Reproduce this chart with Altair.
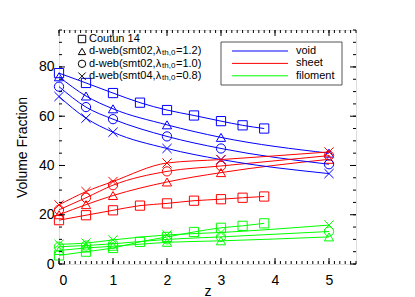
import altair as alt
import pandas as pd
import numpy as np

# ---- data ----
z_coutun = [0, 0.5, 1, 1.5, 2, 2.5, 3, 3.4, 3.8]
coutun_void = [77.5, 73.5, 69.4, 65.5, 62.5, 60.3, 58.0, 56.3, 55.0]
coutun_sheet = [17.8, 19.8, 21.8, 23.7, 24.6, 25.7, 26.3, 26.9, 27.4]
coutun_filament = [3.5, 5.0, 6.5, 9.0, 11.0, 13.0, 14.7, 15.5, 16.5]

z_dweb = [0, 0.5, 1, 2, 3, 5]
smt02_12_void = [76.0, 68.2, 63.0, 56.5, 51.4, 45.0]
smt02_12_sheet = [20.0, 24.1, 27.8, 33.3, 37.1, 42.5]
smt02_12_filament = [5.5, 6.5, 7.2, 8.8, 9.4, 11.0]

smt02_10_void = [72.0, 63.7, 58.8, 51.8, 46.9, 40.5]
smt02_10_sheet = [22.0, 26.9, 32.0, 37.6, 39.8, 44.0]
smt02_10_filament = [7.0, 7.5, 8.2, 10.0, 11.0, 13.2]

smt04_08_void = [68.0, 59.2, 53.5, 46.9, 42.4, 36.7]
smt04_08_sheet = [24.0, 29.4, 33.5, 41.0, 42.4, 45.5]
smt04_08_filament = [8.0, 8.5, 9.8, 11.8, 12.8, 15.8]

components = ["void", "sheet", "filoment"]
comp_colors = ["#0000ff", "#ff0000", "#00ff00"]
sources = ["coutun", "smt02_12", "smt02_10", "smt04_08"]
# legend labels split into (main text, subscript, rest)
legend_main = ["Coutun 14", "d-web(smt02,λ", "d-web(smt02,λ", "d-web(smt04,λ"]
legend_sub = ["", "th,0", "th,0", "th,0"]
legend_rest = ["", "=1.2)", "=1.0)", "=0.8)"]
x_path = "M-1,-1L1,1M-1,1L1,-1"
shapes = ["square", "triangle-up", "circle", x_path]

series = {
    ("coutun", "void"): (z_coutun, coutun_void),
    ("coutun", "sheet"): (z_coutun, coutun_sheet),
    ("coutun", "filoment"): (z_coutun, coutun_filament),
    ("smt02_12", "void"): (z_dweb, smt02_12_void),
    ("smt02_12", "sheet"): (z_dweb, smt02_12_sheet),
    ("smt02_12", "filoment"): (z_dweb, smt02_12_filament),
    ("smt02_10", "void"): (z_dweb, smt02_10_void),
    ("smt02_10", "sheet"): (z_dweb, smt02_10_sheet),
    ("smt02_10", "filoment"): (z_dweb, smt02_10_filament),
    ("smt04_08", "void"): (z_dweb, smt04_08_void),
    ("smt04_08", "sheet"): (z_dweb, smt04_08_sheet),
    ("smt04_08", "filoment"): (z_dweb, smt04_08_filament),
}
rows = []
for (src, comp), (zs, vs) in series.items():
    for z, v in zip(zs, vs):
        rows.append({"z": z, "v": v, "src": src, "comp": comp, "grp": src + "_" + comp})
df = pd.DataFrame(rows)

W, H = 297, 234
FONT = "Liberation Sans"
xs = alt.Scale(domain=[0, 5.5], nice=False, zero=False)
ys = alt.Scale(domain=[0, 95], nice=False)
cs = alt.Scale(domain=components, range=comp_colors)
ss = alt.Scale(domain=sources, range=shapes)

xaxis = alt.Axis(values=[0, 1, 2, 3, 4, 5], ticks=False, domain=False, grid=False,
                 labelFontSize=14, labelPadding=9, titleFontSize=14,
                 titleFontWeight="normal", titlePadding=-3, labelFont=FONT,
                 titleFont=FONT, labelColor="black", titleColor="black")
yaxis = alt.Axis(values=[0, 20, 40, 60, 80], ticks=False, domain=False, grid=False,
                 labelFontSize=14, labelPadding=5, titleFontSize=14,
                 titleFontWeight="normal", titlePadding=9, labelFont=FONT,
                 titleFont=FONT, labelColor="black", titleColor="black")

def X(field):
    return alt.X(field, scale=xs, title="z", axis=xaxis)

def Y(field):
    return alt.Y(field, scale=ys, title="Volume Fraction", axis=yaxis)

lines = alt.Chart(df).mark_line(interpolate="monotone", strokeWidth=1).encode(
    x=X("z:Q"), y=Y("v:Q"),
    color=alt.Color("comp:N", scale=cs, legend=None),
    detail="grp:N",
)
points = alt.Chart(df).mark_point(filled=False, size=85, strokeWidth=1, opacity=1).encode(
    x=X("z:Q"), y=Y("v:Q"),
    color=alt.Color("comp:N", scale=cs, legend=None),
    shape=alt.Shape("src:N", scale=ss, legend=None),
)

# ---- inward ticks on all four sides ----
x_major = [0, 1, 2, 3, 4, 5]
x_minor = [round(v, 1) for v in np.arange(0, 5.51, 0.1)]
y_major = [0, 20, 40, 60, 80]
y_minor = list(range(0, 96, 5))

def xticks(vals, length):
    d = pd.DataFrame({"z": vals})
    b = alt.Chart(d).mark_rule(color="black", strokeWidth=1).encode(
        x=X("z:Q"), y=alt.value(H), y2=alt.value(H - length))
    t = alt.Chart(d).mark_rule(color="black", strokeWidth=1).encode(
        x=X("z:Q"), y=alt.value(0), y2=alt.value(length))
    return [b, t]

def yticks(vals, length):
    d = pd.DataFrame({"v": vals})
    l = alt.Chart(d).mark_rule(color="black", strokeWidth=1).encode(
        y=Y("v:Q"), x=alt.value(0), x2=alt.value(length))
    r = alt.Chart(d).mark_rule(color="black", strokeWidth=1).encode(
        y=Y("v:Q"), x=alt.value(W), x2=alt.value(W - length))
    return [l, r]

ticks = xticks(x_minor, 3) + xticks(x_major, 6) + yticks(y_minor, 3) + yticks(y_major, 6)

# ---- symbol legend (top left) ----
legend_layers = []
def txt(s, x, y, size, dy=0):
    return alt.Chart(pd.DataFrame({"t": [s]})).mark_text(
        align="left", baseline="middle", fontSize=size, font=FONT, color="black", dy=dy
    ).encode(x=alt.value(x), y=alt.value(y), text="t:N")

for i, src in enumerate(sources):
    py = 9 + i * 12.4
    legend_layers.append(alt.Chart(pd.DataFrame({"src": [src]})).mark_point(
        filled=False, size=55, strokeWidth=1, color="black", opacity=1).encode(
        x=alt.value(23), y=alt.value(py),
        shape=alt.Shape("src:N", scale=ss, legend=None)))
    legend_layers.append(txt(legend_main[i], 30, py, 11))
    if legend_sub[i]:
        legend_layers.append(txt(legend_sub[i], 103, py, 8, dy=2))
        legend_layers.append(txt(legend_rest[i], 117, py, 11))

# ---- colour legend box (top right) ----
legend_layers.append(alt.Chart(pd.DataFrame({"a": [0]})).mark_rect(
    fill=None, stroke="#555555", strokeWidth=1).encode(
    x=alt.value(162), x2=alt.value(283), y=alt.value(12), y2=alt.value(55)))
for i, comp in enumerate(components):
    d = pd.DataFrame({"comp": [comp]})
    py = 21 + i * 12.4
    legend_layers.append(alt.Chart(d).mark_rule(strokeWidth=1).encode(
        x=alt.value(173), x2=alt.value(229), y=alt.value(py),
        color=alt.Color("comp:N", scale=cs, legend=None)))
    legend_layers.append(txt(comp, 237, py, 11))

chart = alt.layer(lines, points, *ticks, *legend_layers).properties(
    width=W, height=H,
    autosize=alt.AutoSizeParams(type="none"),
    padding={"left": 51, "top": 22, "right": 20, "bottom": 33},
).configure_view(stroke="black", strokeWidth=1).configure(background="white")

chart.save("out.html", embed_options={"renderer": "svg", "actions": False})
